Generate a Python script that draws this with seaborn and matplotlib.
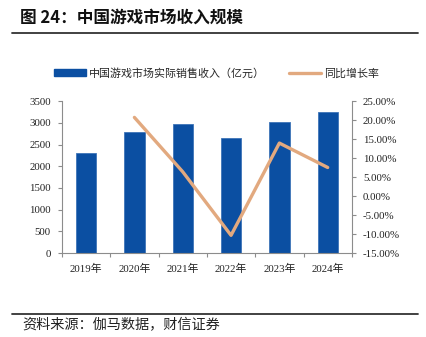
import numpy as np
import pandas as pd
import matplotlib
matplotlib.use("Agg")
import matplotlib.pyplot as plt
import seaborn as sns
from matplotlib.lines import Line2D
from matplotlib.patches import Patch
from matplotlib.ticker import FuncFormatter

years = ["2019年", "2020年", "2021年", "2022年", "2023年", "2024年"]
revenue = [2308.8, 2786.87, 2965.13, 2658.84, 3029.64, 3257.83]
growth = [np.nan, 20.71, 6.40, -10.33, 13.95, 7.53]

bar_label = "中国游戏市场实际销售收入（亿元）"
line_label = "同比增长率"
title = "图 24：中国游戏市场收入规模"
source = "资料来源：伽马数据，财信证券"

BLUE = "#0B4FA2"
ORANGE = "#E2A97F"
GREY = "#8C8C8C"

sns.set_theme(style="white")
plt.rcParams["font.family"] = ["Liberation Serif", "Noto Sans CJK SC", "DejaVu Sans"]
plt.rcParams["axes.unicode_minus"] = False

df = pd.DataFrame({"year": years, "revenue": revenue, "growth": growth,
                   "idx": np.arange(len(years))})

fig = plt.figure(figsize=(4.27, 3.37), dpi=100)
ax = fig.add_axes([0.145, 0.249, 0.679, 0.451])

sns.barplot(data=df, x="idx", y="revenue", color=BLUE, width=0.42,
            saturation=1, ax=ax, edgecolor="#3E74B8", linewidth=0.6)
ax.set_xlim(-0.5, len(years) - 0.5)
ax.set_ylim(0, 3500)
ax.set_yticks(np.arange(0, 3501, 500))
ax.set_xticks(np.arange(len(years)))
ax.set_xticklabels(years)
ax.set_xlabel("")
ax.set_ylabel("")

ax2 = ax.twinx()
sns.lineplot(data=df, x="idx", y="growth", color=ORANGE, linewidth=2.4,
             ax=ax2, legend=False)
ax2.set_ylim(-15, 25)
ax2.set_yticks(np.arange(-15, 25.1, 5))
ax2.yaxis.set_major_formatter(FuncFormatter(lambda v, p: f"{v:.2f}%"))
ax2.set_ylabel("")
ax2.set_xlim(-0.5, len(years) - 0.5)

for a in (ax, ax2):
    for s in a.spines.values():
        s.set_visible(False)
    a.grid(False)
ax.spines["left"].set_visible(True)
ax.spines["bottom"].set_visible(True)
ax2.spines["right"].set_visible(True)
for s in (ax.spines["left"], ax.spines["bottom"], ax2.spines["right"]):
    s.set_color(GREY)
    s.set_linewidth(0.8)

# x ticks on category boundaries, labels centred under bars
ax.set_xticks(np.arange(-0.5, len(years), 1.0), minor=True)
ax.tick_params(axis="x", which="major", length=0, pad=8, labelsize=7.8,
               colors="#222222")
ax.tick_params(axis="x", which="minor", length=3, width=0.8, color=GREY,
               direction="out", bottom=True)
ax.tick_params(axis="y", length=3, width=0.8, color=GREY, direction="out",
               left=True, labelsize=7.8, labelcolor="#222222", pad=5)
ax2.tick_params(axis="y", length=3, width=0.8, color=GREY, direction="out",
                right=True, labelsize=7.8, labelcolor="#222222", pad=5)

handles = [Patch(facecolor=BLUE, edgecolor=BLUE),
           Line2D([0], [0], color=ORANGE, linewidth=2.4)]
fig.legend(handles, [bar_label, line_label], loc="center",
           bbox_to_anchor=(0.507, 0.783), ncol=2, frameon=False,
           prop={"family": ["Noto Sans CJK SC"], "size": 7.9},
           handlelength=2.9, handleheight=0.5, columnspacing=2.2,
           handletextpad=0.3)

fig.text(20 / 427, 1 - 18 / 337, title, fontsize=12, fontweight="bold",
         family=["Noto Sans CJK SC"], va="center", ha="left", color="#111111")
fig.add_artist(Line2D([12 / 427, 418 / 427], [1 - 33 / 337, 1 - 33 / 337],
                      color="#333333", linewidth=1.3))
fig.add_artist(Line2D([12 / 427, 418 / 427], [1 - 314 / 337, 1 - 314 / 337],
                      color="#333333", linewidth=1.3))
fig.text(22 / 427, 1 - 325 / 337, source, fontsize=10.2, style="italic",
         family=["Noto Sans CJK SC"], va="center", ha="left", color="#222222")

fig.savefig("out.png", dpi=100, facecolor="white")
